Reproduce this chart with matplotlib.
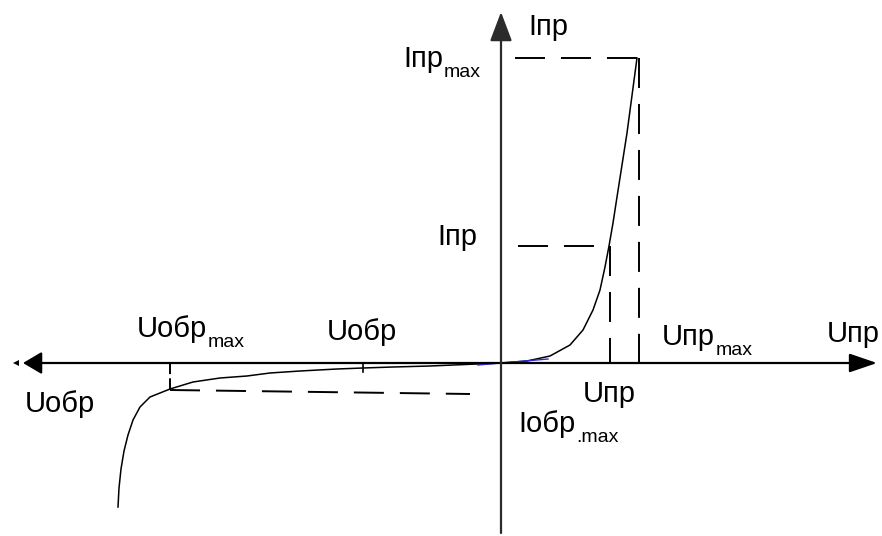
import matplotlib
matplotlib.use("Agg")
import matplotlib.pyplot as plt

plt.rcParams['font.family'] = ['Liberation Sans', 'DejaVu Sans']
plt.rcParams['lines.scale_dashes'] = False

# forward branch (U, I)
fwd_u = [0, 0.26, 0.49, 0.69, 0.82, 0.92, 0.99, 1.04, 1.08, 1.12, 1.16, 1.26, 1.36]
fwd_i = [0, 0.02, 0.07, 0.18, 0.33, 0.53, 0.73, 0.96, 1.17, 1.40, 1.66, 2.30, 3.05]

# reverse branch
rev_u = [0, -0.24, -0.71, -1.08, -1.38, -1.64, -2.01, -2.31, -2.54, -2.81, -3.08, -3.31,
         -3.51, -3.61, -3.68, -3.73, -3.77, -3.80, -3.82, -3.83]
rev_i = [0, -0.01, -0.03, -0.04, -0.05, -0.06, -0.08, -0.10, -0.13, -0.15, -0.19, -0.26,
         -0.34, -0.44, -0.57, -0.72, -0.88, -1.06, -1.25, -1.44]

u_pr, i_pr = 1.09, 1.17
u_pr_max, i_pr_max = 1.38, 3.05
u_obr = -1.38
u_obr_max, i_obr_max = -3.31, -0.27

fig = plt.figure(figsize=(8.82, 5.36), dpi=100)
ax = fig.add_axes([0, 0, 1, 1])
ax.set_xlim(-5.01, 3.81)
ax.set_ylim(-1.73, 3.63)
ax.axis('off')

axis_col = '#2b2b2b'
# axes with arrows
ax.annotate('', xy=(3.76, 0), xytext=(0, 0),
            arrowprops=dict(arrowstyle='-|>,head_length=1.7,head_width=0.58',
                            color='black', lw=1.6, shrinkA=0, shrinkB=0))
ax.annotate('', xy=(-4.78, 0), xytext=(0, 0),
            arrowprops=dict(arrowstyle='-|>,head_length=1.15,head_width=0.68',
                            color='black', lw=1.6, shrinkA=0, shrinkB=0))
ax.plot([-4.85], [0], marker='<', ms=5, color='black', mew=0)
ax.annotate('', xy=(0, 3.51), xytext=(0, -1.70),
            arrowprops=dict(arrowstyle='-|>,head_length=1.8,head_width=0.68',
                            color=axis_col, lw=1.6, shrinkA=0, shrinkB=0))

# characteristic
ax.plot(fwd_u, fwd_i, color='black', lw=1.1)
ax.plot(rev_u, rev_i, color='black', lw=1.1)
ax.plot([-0.23, 0.47], [-0.02, 0.04], color='#2a2ad0', lw=1.0)

dash = dict(color='black', lw=1.4, dashes=(21.6, 11.5))
ax.plot([0.14, u_pr_max], [i_pr_max, i_pr_max], **dash)
ax.plot([u_pr_max, u_pr_max], [i_pr_max, 0], **dash)
ax.plot([0.17, u_pr], [i_pr, i_pr], **dash)
ax.plot([u_pr, u_pr], [i_pr, 0], **dash)
ax.plot([u_obr_max, -0.31], [i_obr_max, i_obr_max - 0.04], **dash)
ax.plot([u_obr_max, u_obr_max], [0, i_obr_max + 0.01], color='black', lw=1.4, dashes=(8, 3))
ax.plot([u_obr, u_obr], [0, -0.09], color='black', lw=1.2)

fs = 21


def label(x, y, main, sub=None):
    t = ax.text(x, y, main, fontsize=fs, va='baseline')
    if sub:
        ax.annotate(sub, xy=(1, 0), xycoords=t, xytext=(0.5, -3),
                    textcoords='offset points', fontsize=14, va='baseline')


label(0.27, 3.28, 'Iпр')
label(-0.98, 2.96, 'Iпр', 'max')
label(-0.64, 1.18, 'Iпр')
label(-3.64, 0.26, 'Uобр', 'max')
label(-1.74, 0.23, 'Uобр')
label(1.61, 0.18, 'Uпр', 'max')
label(3.26, 0.21, 'Uпр')
label(-4.76, -0.49, 'Uобр')
label(0.82, -0.39, 'Uпр')
label(0.17, -0.69, 'Iобр', '.max')

fig.savefig('out.png', dpi=100)
